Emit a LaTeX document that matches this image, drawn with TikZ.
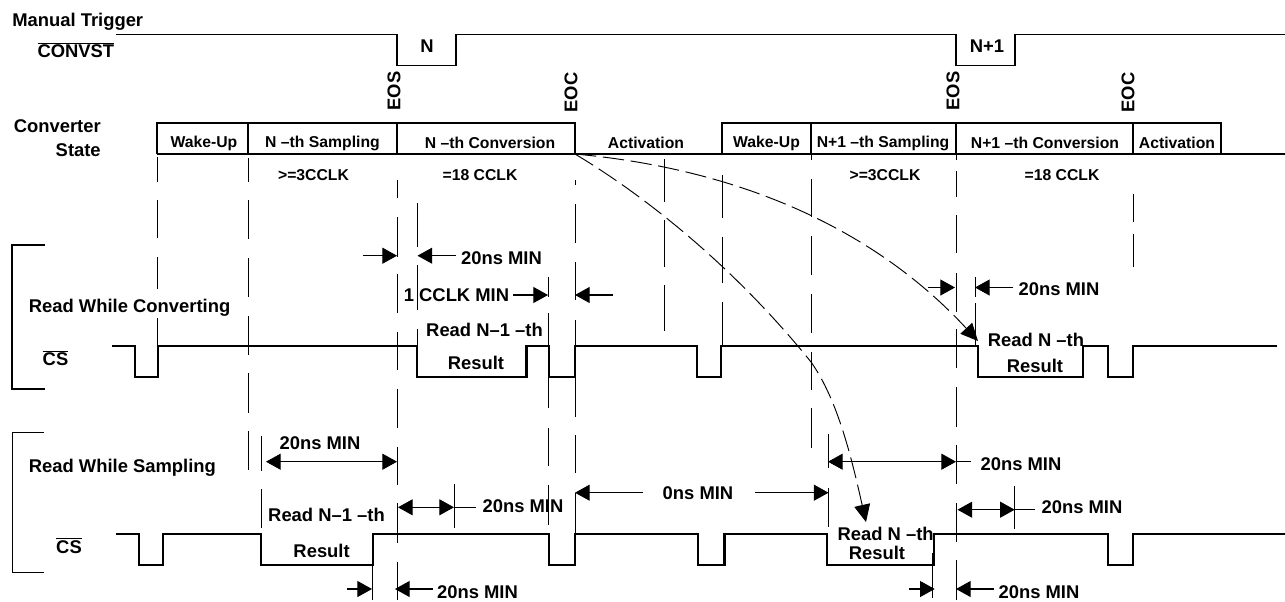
\documentclass[tikz,border=0pt]{standalone}
\usepackage{fontspec}
\setmainfont{Liberation Sans}
\usetikzlibrary{arrows.meta,positioning,calc}
\newcommand{\barsig}[1]{$\overline{\hbox{\bfseries #1}}$}
\tikzset{
  big/.style={inner sep=0pt,font=\fontsize{13.8}{16}\selectfont\bfseries},
  mid/.style={inner sep=0pt,font=\fontsize{11.8}{14}\selectfont\bfseries},
  guide/.style={line width=.7pt},
  signal/.style={line width=1.6pt,line join=miter},
  dim/.style={line width=.8pt,-{Triangle[length=11pt,width=12pt]}},
  dimboth/.style={line width=.8pt,{Triangle[length=11pt,width=12pt]}-{Triangle[length=11pt,width=12pt]}},
  flow/.style={line width=.7pt,dash pattern=on 16pt off 5pt,-{Triangle[length=13pt,width=12pt]}},
}
\begin{document}
\begin{tikzpicture}[x=.75pt,y=-.75pt]
  \useasboundingbox (0,0) rectangle (1285,601);
  % trigger line
  \node[big,anchor=west] (trig) at (12,22) {Manual Trigger};
  \node[big,anchor=east] (convst) at (114.5,50) {\barsig{CONVST}};
  \draw[line width=1pt] (116,34.3) -| (397,65.7) -| (456,34.3) -| (956,65.7) -| (1015,34.3) -- (1285,34.3);
  \node[big] (n) at (427,45.7) {N};
  \node[big] (n1) at (987,45.7) {N+1};
  \node[big,rotate=90] (eos) at (394,91) {EOS};
  \node[big,rotate=90] (eoc) at (571,92.5) {EOC};
  \node[big,rotate=90] (eos1) at (953,91) {EOS};
  \node[big,rotate=90] (eoc1) at (1128,92.5) {EOC};
  % converter state
  \node[big,align=right,anchor=east] (state) at (101,138) {Converter\\[2.5pt]State};
  \draw[signal] (157,153.7) |- (397,123.3) -- (397,153.7) (248,123.3) -- (248,153.7);
  \draw[signal] (397,123.3) -| (575,153.7);
  \draw[signal] (722,153.7) |- (1221,123.3) -- (1221,153.7);
  \draw[signal] (811,123.3) -- (811,153.7) (956,123.3) -- (956,153.7) (1133,123.3) -- (1133,153.7);
  \draw[signal] (157,153.7) -- (1285,153.7);
  \foreach \x/\txt in {204/Wake-Up,322.5/N –th Sampling,490/N –th Conversion,646/Activation,766.5/Wake-Up,883/N+1 –th Sampling,1045/N+1 –th Conversion,1177/Activation}
    \node[mid] at (\x,143) {\txt};
  \foreach \x/\txt in {313.5/>=3CCLK,480/=18 CCLK,885/>=3CCLK,1062/=18 CCLK}
    \node[mid] at (\x,175) {\txt};
  % guide lines
  \foreach \x/\segs in {
    157.5/{157/182,200/238,257/289,318/346},
    248/{158/182,200/239,258/297,316/355,373/413,431/470},
    397/{180/198,217/257,274/313,332/370,389/428,447/485,503/543,562/600},
    417/{203/247,265/310,329/375},
    548/{277/297,313/408,428/466,485/525},
    575/{180/185,204/243,262/300,320/358,377/417,435/473,493/533},
    664/{159/202,220/267,285/331},
    722/{175/218,237/283,302/345},
    811/{155/160,179/217,236/275,294/333,352/390,408/448},
    956/{155/160,171/197,215/253,273/312,329/368,387/427,445/484,503/542,560/600},
    975/{277/297,303/345},
    1133/{194/222,234/267},
    261/{436/471,489/528},
    454/{484/528},
    828/{434/468,488/527},
    1014/{486/529},
    372/{565/600},
    932/{553/598}}
    \foreach \a/\b in \segs
      \draw[guide] (\x,\a) -- (\x,\b);
  % flow of results
  \draw[flow] (575,154) .. controls (750,170) and (880,235) .. (978,341);
  \draw[flow] (575,154) .. controls (660,205) and (745,280) .. (811,362) .. controls (838,400) and (852,460) .. (866,522);
  % read while converting
  \draw[line width=1.5pt] (45,245) -| (12,389) -- (45,389);
  \node[big,anchor=west] (rwc) at (28.6,307.7) {Read While Converting};
  \node[big] (cs) at (55.5,358) {\barsig{CS}};
  \draw[signal] (112,346) -| (135,377.3) -| (158,346) -| (417,377.3) -| (526.5,346) -| (549,377.3) -| (575,346) -| (697,377.3) -| (721,346) -| (978,377.3) -| (1083,346) -| (1108,377.3) -| (1133,346) -- (1277,346);
  \draw[dim] (363,255.7) -- (397,255.7);
  \draw[dim] (456,255.7) -- (417.5,255.7);
  \node[big] (tc) at (501.5,258) {20ns MIN};
  \node[big] (ccl) at (456.5,295) {1 CCLK MIN};
  \draw[dim] (513,295) -- (548,295);
  \draw[dim] (613,295) -- (575,295);
  \draw[dim] (928,287.5) -- (955,287.5);
  \draw[dim] (1013,287.5) -- (975,287.5);
  \node[big] (tc1) at (1059,289) {20ns MIN};
  \node[big] (rc) at (484.5,330) {Read N–1 –th};
  \node[big] (rcr) at (476,362.7) {Result};
  \node[big] (rc1) at (1036,340) {Read N –th};
  \node[big] (rcr1) at (1035,365.7) {Result};
  % read while sampling
  \draw[line width=.7pt] (44,432) -| (12,572.7) -- (44,572.7);
  \node[big,anchor=west] (rws) at (28.6,467.7) {Read While Sampling};
  \node[big] (cs1) at (69,545.7) {\barsig{CS}};
  \draw[signal] (116,533.7) -| (139,565) -| (163,533.7) -| (261,565) -| (372.6,533.7) -| (549,565) -| (575,533.7) -| (698,565) -| (724.5,533.7) -| (827,565) -| (934,533.7) -| (1108,565) -| (1133,533.7) -- (1285,533.7);
  \node[big] (ts) at (320,442.7) {20ns MIN};
  \draw[dimboth] (266,461.7) -- (397,461.7);
  \node[big] (rs) at (326.5,515) {Read N–1 –th};
  \node[big] (rsr) at (321.6,550.7) {Result};
  \draw[dimboth] (398,507.3) -- (454,507.3);
  \draw[guide] (454,507.3) -- (475.5,507.3);
  \node[big] (ts1) at (523,505.7) {20ns MIN};
  \draw[dim] (643,492.7) -- (575,492.7);
  \draw[dim] (755,492.7) -- (828.5,492.7);
  \node[big] (zero) at (698,493) {0ns MIN};
  \draw[dimboth] (828,461.7) -- (956,461.7);
  \draw[guide] (956,461.7) -- (970.6,461.7);
  \node[big] (ts2) at (1021,464.3) {20ns MIN};
  \draw[dimboth] (957.5,509.7) -- (1014.7,509.7);
  \draw[guide] (1014.7,509.7) -- (1035,509.7);
  \node[big] (ts3) at (1082,507) {20ns MIN};
  \draw[dim] (347,589) -- (372,589);
  \draw[dim] (432.6,589) -- (395,589);
  \node[big] (tb) at (477.5,591.7) {20ns MIN};
  \draw[dim] (909,589) -- (934.7,589);
  \draw[dim] (994,589) -- (956,589);
  \node[big] (tb1) at (1039,591.7) {20ns MIN};
  \node[big] (rs1) at (885.7,534) {Read N –th};
  \node[big] (rsr1) at (877,552.7) {Result};
\end{tikzpicture}
\end{document}
